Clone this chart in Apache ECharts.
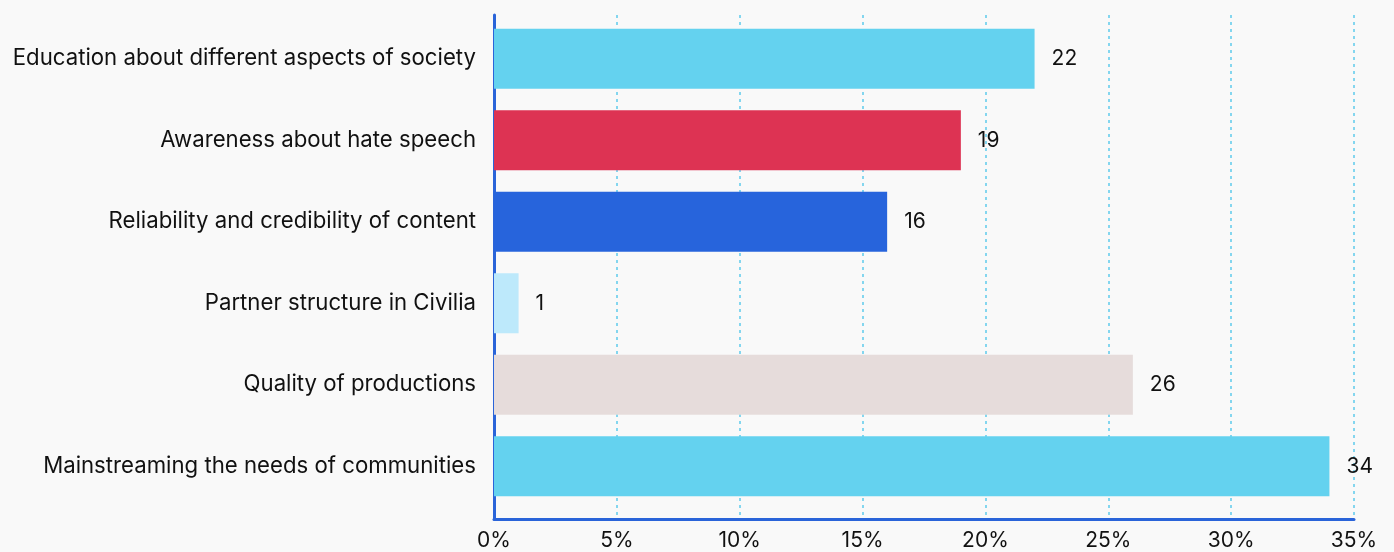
<!DOCTYPE html>
<html>
<head>
<meta charset="utf-8">
<style>
  html, body { margin: 0; padding: 0; background: #f9f9f9; }
  #chart { width: 1394px; height: 552px; }
</style>
<script src="https://cdn.jsdelivr.net/npm/echarts@6/dist/echarts.min.js"></script>
</head>
<body>
<div id="chart"></div>
<script>
// Categories listed top to bottom
const categories = [
  'Education about different aspects of society',
  'Awareness about hate speech',
  'Reliability and credibility of content',
  'Partner structure in Civilia',
  'Quality of productions',
  'Mainstreaming the needs of communities'
];
const values = [22, 19, 16, 1, 26, 34];
const barColors = ['#64d2ef', '#dd3353', '#2764dc', '#bde9fb', '#e6dcdb', '#64d2ef'];
const xTicks = [0, 5, 10, 15, 20, 25, 30, 35];

const FONT = 'Inter, "Noto Sans", sans-serif';
const AXIS_BLUE = '#2a64d9';

const chart = echarts.init(document.getElementById('chart'));

chart.setOption({
  backgroundColor: '#f9f9f9',
  animation: false,
  grid: [
    // frame grid: axis lines, dotted split lines, tick labels
    { left: 494, right: 40, top: 15, bottom: 33 },
    // bar grid
    { left: 494, right: 40, top: 18, bottom: 45 }
  ],
  xAxis: [
    {
      gridIndex: 0,
      type: 'value',
      min: xTicks[0],
      max: xTicks[xTicks.length - 1],
      interval: 5,
      axisLine: { show: true, lineStyle: { color: AXIS_BLUE, width: 3 } },
      axisTick: { show: false },
      splitLine: { show: true, lineStyle: { color: '#84d6ef', type: [3, 4], width: 2 } },
      axisLabel: {
        color: '#111',
        fontFamily: FONT,
        fontSize: 21,
        margin: 11,
        formatter: v => v + '%'
      }
    },
    {
      gridIndex: 1,
      type: 'value',
      min: xTicks[0],
      max: xTicks[xTicks.length - 1],
      show: false
    }
  ],
  yAxis: [
    {
      gridIndex: 0,
      type: 'value',
      min: 0,
      max: 1,
      axisLine: { show: true, lineStyle: { color: AXIS_BLUE, width: 3 } },
      axisTick: { show: false },
      axisLabel: { show: false },
      splitLine: { show: false }
    },
    {
      gridIndex: 1,
      type: 'category',
      data: categories,
      inverse: true,
      axisLine: { show: false },
      axisTick: { show: false },
      axisLabel: {
        color: '#111',
        fontFamily: FONT,
        fontSize: 22.2,
        margin: 18
      }
    }
  ],
  series: [
    {
      type: 'bar',
      xAxisIndex: 1,
      yAxisIndex: 1,
      barWidth: 60,
      data: values.map((v, i) => ({ value: v, itemStyle: { color: barColors[i] } })),
      label: {
        show: true,
        position: 'right',
        distance: 17,
        color: '#111',
        fontFamily: FONT,
        fontSize: 21
      }
    }
  ]
});
</script>
</body>
</html>
